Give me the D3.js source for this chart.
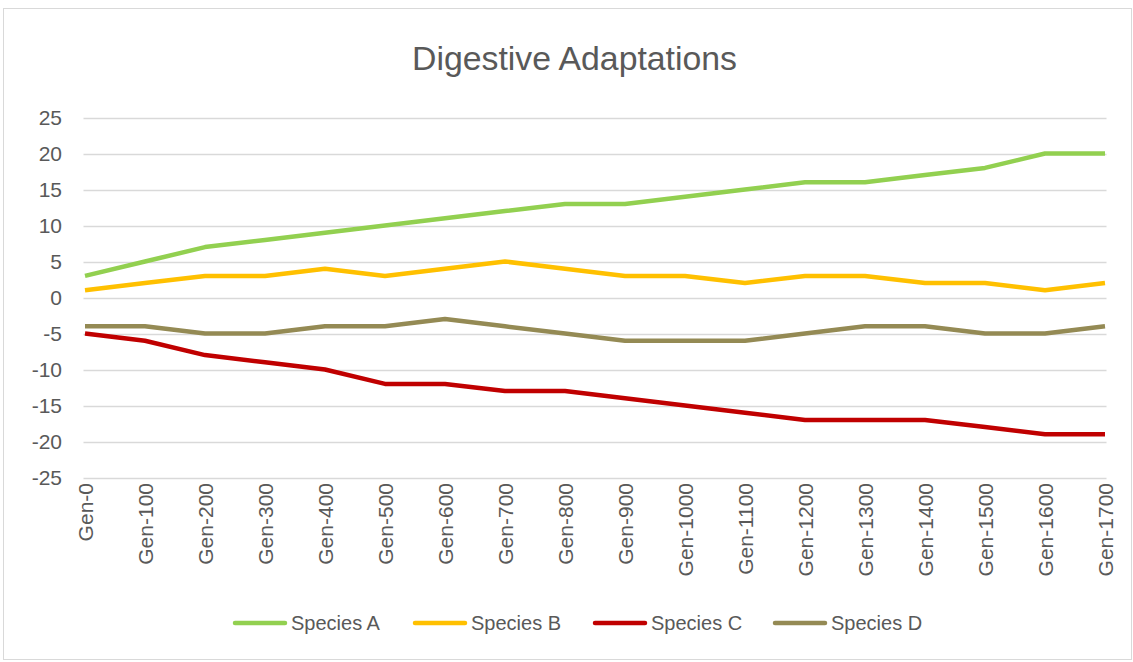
<!DOCTYPE html>
<html>
<head>
<meta charset="utf-8">
<script src="https://cdn.jsdelivr.net/npm/d3@7"></script>
<style>
  body { margin: 0; background: #fff; }
  text { font-family: "Liberation Sans", Arial, sans-serif; fill: #595959; }
</style>
</head>
<body>
<div id="chart"></div>
<script>
var generations = ["Gen-0","Gen-100","Gen-200","Gen-300","Gen-400","Gen-500","Gen-600","Gen-700","Gen-800","Gen-900",
  "Gen-1000","Gen-1100","Gen-1200","Gen-1300","Gen-1400","Gen-1500","Gen-1600","Gen-1700"];
var speciesA = [3,5,7,8,9,10,11,12,13,13,14,15,16,16,17,18,20,20];
var speciesB = [1,2,3,3,4,3,4,5,4,3,3,2,3,3,2,2,1,2];
var speciesC = [-5,-6,-8,-9,-10,-12,-12,-13,-13,-14,-15,-16,-17,-17,-17,-18,-19,-19];
var speciesD = [-4,-4,-5,-5,-4,-4,-3,-4,-5,-6,-6,-6,-5,-4,-4,-5,-5,-4];
var yTicks = [25,20,15,10,5,0,-5,-10,-15,-20,-25];

var series = [
  { name: "Species A", values: speciesA, color: "#92d050" },
  { name: "Species B", values: speciesB, color: "#ffc000" },
  { name: "Species C", values: speciesC, color: "#c00000" },
  { name: "Species D", values: speciesD, color: "#948a54" }
];

var W = 1133, H = 662;
var svg = d3.select("#chart").append("svg").attr("width", W).attr("height", H);

// chart frame
svg.append("rect")
  .attr("x", 3.5).attr("y", 8.5).attr("width", W - 5).attr("height", H - 11)
  .attr("fill", "#fff").attr("stroke", "#d9d9d9").attr("stroke-width", 1);

// title
svg.append("text")
  .attr("x", 574.5).attr("y", 70)
  .attr("text-anchor", "middle")
  .attr("textLength", 325).attr("lengthAdjust", "spacingAndGlyphs")
  .style("font-size", "34px")
  .text("Digestive Adaptations");

var gridLeft = 83.5, gridRight = 1106.5;
var x = d3.scalePoint().domain(generations).range([85, 1105]);
var y = d3.scaleLinear().domain([-25, 25]).range([477.5, 117.5]);

// gridlines
svg.append("g").selectAll("line")
  .data(yTicks).enter().append("line")
  .attr("x1", gridLeft).attr("x2", gridRight)
  .attr("y1", function (d) { return Math.round(y(d)) + 0.5; })
  .attr("y2", function (d) { return Math.round(y(d)) + 0.5; })
  .attr("stroke", "#d9d9d9").attr("stroke-width", 1.3);

// y labels
svg.append("g").selectAll("text")
  .data(yTicks).enter().append("text")
  .attr("x", 62).attr("y", function (d) { return y(d); })
  .attr("dy", "0.36em")
  .attr("text-anchor", "end")
  .style("font-size", "21px")
  .text(function (d) { return d; });

// x labels, rotated
svg.append("g").selectAll("text")
  .data(generations).enter().append("text")
  .attr("transform", function (d) { return "translate(" + x(d) + ",483) rotate(-90)"; })
  .attr("dy", "0.36em")
  .attr("text-anchor", "end")
  .style("font-size", "21px")
  .text(function (d) { return d; });

// lines
var line = d3.line()
  .x(function (d, i) { return x(generations[i]); })
  .y(function (d) { return y(d); });

svg.append("g").selectAll("path")
  .data(series).enter().append("path")
  .attr("d", function (s) { return line(s.values); })
  .attr("fill", "none")
  .attr("stroke", function (s) { return s.color; })
  .attr("stroke-width", 4.5)
  .attr("stroke-linejoin", "round")
  .attr("stroke-linecap", "butt");

// legend
var legend = svg.append("g").selectAll("g")
  .data(series).enter().append("g")
  .attr("transform", function (d, i) { return "translate(" + (233 + i * 180) + ",623)"; });

legend.append("line")
  .attr("x1", 2).attr("x2", 52).attr("y1", 0).attr("y2", 0)
  .attr("stroke", function (d) { return d.color; })
  .attr("stroke-width", 4.5)
  .attr("stroke-linecap", "round");

legend.append("text")
  .attr("x", 58).attr("y", 0).attr("dy", "0.36em")
  .style("font-size", "20px")
  .text(function (d) { return d.name; });
</script>
</body>
</html>
